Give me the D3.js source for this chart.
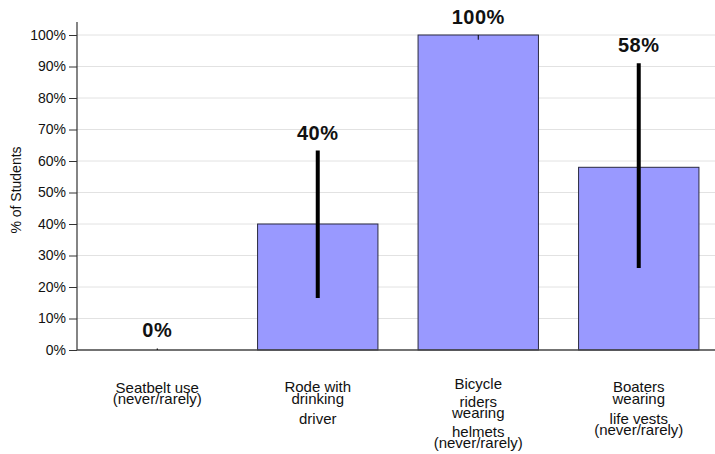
<!DOCTYPE html>
<html><head><meta charset="utf-8">
<script src="https://cdn.jsdelivr.net/npm/d3@7"></script>
<style>body{margin:0;background:#fff}svg{display:block;font-family:"Liberation Sans",Arial,sans-serif}</style>
</head><body><svg id="c" width="715" height="454"></svg>
<script>
const categories = [
  ["Seatbelt use", "(never/rarely)"],
  ["Rode with", "drinking", "driver"],
  ["Bicycle", "riders", "wearing", "helmets", "(never/rarely)"],
  ["Boaters", "wearing", "life vests", "(never/rarely)"]
];
const values = [0, 40, 100, 58];
const errLow = [0, 16.5, 98.5, 26];
const errHigh = [0.5, 63.3, 100, 91];
const valueLabels = ["0%", "40%", "100%", "58%"];
const yTicks = [0,10,20,30,40,50,60,70,80,90,100];
const yTitle = "% of Students";

(function(){
const svg = d3.select("#c");
const mLeft = 77, mRight = 719, mTop = 35, mBottom = 350;
const x = d3.scaleBand().domain(d3.range(categories.length)).range([mLeft, mRight]).paddingInner(0.25).paddingOuter(0.125);
const y = d3.scaleLinear().domain([0, 100]).range([mBottom, mTop]);

// gridlines
svg.append("g").selectAll("line").data(yTicks.filter(d=>d>0)).join("line")
  .attr("x1", mLeft).attr("x2", 715).attr("y1", d=>y(d)).attr("y2", d=>y(d))
  .attr("stroke", "#e2e2e2").attr("stroke-width", 1);

// y axis
const ya = svg.append("g").attr("transform", `translate(${mLeft},0)`)
  .call(d3.axisLeft(y).tickValues(yTicks).tickFormat(d=>d+"%").tickSize(8).tickPadding(3));
ya.select(".domain").remove();
ya.selectAll(".tick line").attr("stroke", "#333");
ya.selectAll("text").attr("font-size", 14).attr("fill", "#111").attr("font-family", "Liberation Sans, Arial, sans-serif");
svg.append("line").attr("x1", mLeft).attr("x2", mLeft).attr("y1", 22).attr("y2", mBottom).attr("stroke", "#333").attr("stroke-width", 1.2);

// bars
svg.append("g").selectAll("rect").data(values).join("rect")
  .attr("x", (d,i)=>x(i)).attr("width", x.bandwidth())
  .attr("y", d=>y(d)).attr("height", d=>mBottom - y(d))
  .attr("fill", "#9999ff").attr("stroke", "#2a2a40").attr("stroke-width", 1);

// x axis line
svg.append("line").attr("x1", mLeft).attr("x2", 715).attr("y1", mBottom).attr("y2", mBottom).attr("stroke", "#444").attr("stroke-width", 1.5);

// error bars
svg.append("g").selectAll("line").data(values).join("line")
  .attr("x1", (d,i)=>x(i)+x.bandwidth()/2).attr("x2", (d,i)=>x(i)+x.bandwidth()/2)
  .attr("y1", (d,i)=>y(errLow[i])).attr("y2", (d,i)=>y(errHigh[i]))
  .attr("stroke", "#000").attr("stroke-width", (d,i)=> (errHigh[i]-errLow[i] > 3 ? 4 : 1));

// value labels
svg.append("g").selectAll("text").data(valueLabels).join("text")
  .attr("x", (d,i)=>x(i)+x.bandwidth()/2)
  .attr("y", (d,i)=>Math.min(y(values[i]), y(errHigh[i])) - 11)
  .attr("text-anchor", "middle").attr("font-size", 20).attr("font-weight", "bold").attr("fill", "#111")
  .attr("letter-spacing", 0.5)
  .text(d=>d);

// category labels (baselines)
const lineY = [
  [392.5, 403.5],
  [392, 403.5, 423.5],
  [388.5, 406.5, 417.5, 436.5, 448],
  [392, 403.5, 423.5, 434.5]
];
categories.forEach((lines, i) => {
  const g = svg.append("text").attr("text-anchor", "middle").attr("font-size", 15).attr("fill", "#111");
  lines.forEach((t, j) => {
    g.append("tspan").attr("x", x(i)+x.bandwidth()/2).attr("y", lineY[i][j]).text(t);
  });
});

// y title
svg.append("text").attr("transform", "translate(21,190) rotate(-90)").attr("text-anchor", "middle")
  .attr("font-size", 14).attr("fill", "#111").text(yTitle);
})();
</script></body></html>
